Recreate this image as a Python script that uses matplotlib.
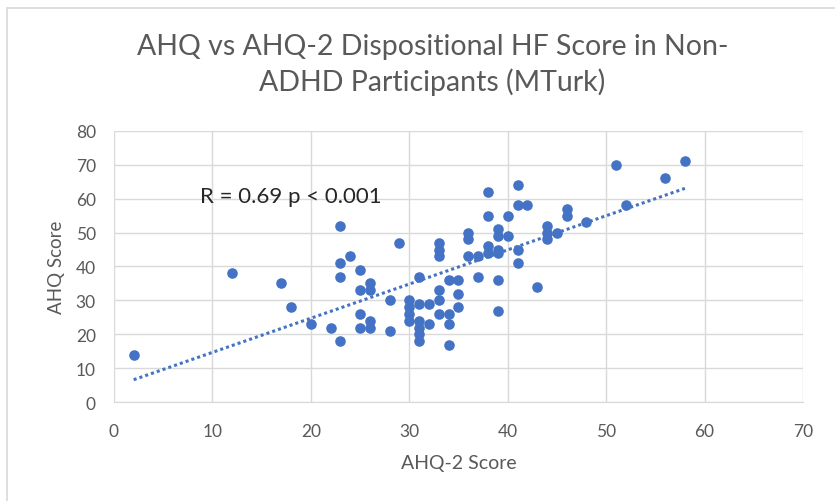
import matplotlib
matplotlib.use("Agg")
import matplotlib.pyplot as plt
import numpy as np
from matplotlib.patches import Rectangle

# AHQ-2 score (x) vs AHQ score (y)
ahq2 = [2, 12, 17, 18, 20, 22, 23, 23, 23, 23, 24, 25, 25, 25, 25, 26, 26, 26, 26,
        28, 28, 29, 30, 30, 30, 30, 31, 31, 32, 31, 31, 31, 31, 32,
        33, 33, 33, 33, 33, 33, 34, 35, 34, 34, 34, 35, 35,
        36, 36, 36, 37, 37, 38, 38, 38, 38, 39, 39, 39, 39, 39, 39,
        40, 40, 41, 41, 42, 41, 41, 43, 44, 44, 44, 45, 46, 46, 48,
        51, 52, 56, 58]
ahq = [14, 38, 35, 28, 23, 22, 18, 52, 41, 37, 43, 39, 33, 26, 22, 35, 33, 24, 22,
       30, 21, 47, 30, 28, 26, 24, 37, 29, 29, 24, 22, 20, 18, 23,
       47, 45, 43, 33, 30, 26, 36, 36, 26, 23, 17, 32, 28,
       50, 48, 43, 43, 37, 62, 55, 46, 44, 45, 44, 51, 49, 36, 27,
       55, 49, 64, 58, 58, 45, 41, 34, 52, 50, 48, 50, 57, 55, 53,
       70, 58, 66, 71]

x_ticks = [0, 10, 20, 30, 40, 50, 60, 70]
y_ticks = [0, 10, 20, 30, 40, 50, 60, 70, 80]

blue = "#4472C4"
grid_col = "#D9D9D9"
text_col = "#595959"
plt.rcParams['font.family'] = ['Lato', 'DejaVu Sans']

fig = plt.figure(figsize=(8.35, 5.02), dpi=100)
# chart border (Excel chart area)
fig.patches.append(Rectangle((7 / 835, -0.1), 1.2, 1 - 9 / 502 + 0.1,
                             transform=fig.transFigure, fill=False,
                             edgecolor="#D9D9D9", linewidth=1.2))

ax = fig.add_axes([0.1365, 0.1966, 0.8252, 0.5411])
ax.scatter(ahq2, ahq, s=58, color=blue, zorder=3, linewidths=0)

# linear trendline
slope, icpt = np.polyfit(ahq2, ahq, 1)
xt = np.array([min(ahq2), max(ahq2)])
ax.plot(xt, slope * xt + icpt, color=blue, linestyle=(0, (1, 1)), linewidth=2.2, zorder=2)

ax.set_xlim(0, 70)
ax.set_ylim(0, 80)
ax.set_xticks(x_ticks)
ax.set_yticks(y_ticks)
ax.grid(True, color=grid_col, linewidth=1)
ax.set_axisbelow(True)
for s in ["top", "right", "left"]:
    ax.spines[s].set_visible(False)
ax.spines["bottom"].set_color(grid_col)
ax.tick_params(length=0, labelsize=12.5, labelcolor=text_col)
ax.tick_params(axis="x", pad=15)
ax.tick_params(axis="y", pad=13)

ax.set_xlabel("AHQ-2 Score", fontsize=14, color=text_col)
ax.set_ylabel("AHQ Score", fontsize=13.5, color=text_col)
ax.xaxis.set_label_coords(0.5, -52 / 271.6, transform=ax.transAxes)
ax.yaxis.set_label_coords(-49 / 689, 0.5, transform=ax.transAxes)
ax.text(8.7, 60.8, "R = 0.69 p < 0.001", fontsize=16, color="#262626", va="center")

fig.text(0.518, 1 - 65 / 502, "AHQ vs AHQ-2 Dispositional HF Score in Non-\nADHD Participants (MTurk)",
         ha="center", va="center", fontsize=20.5, color=text_col, linespacing=1.4)

fig.savefig("out.png", dpi=100)
